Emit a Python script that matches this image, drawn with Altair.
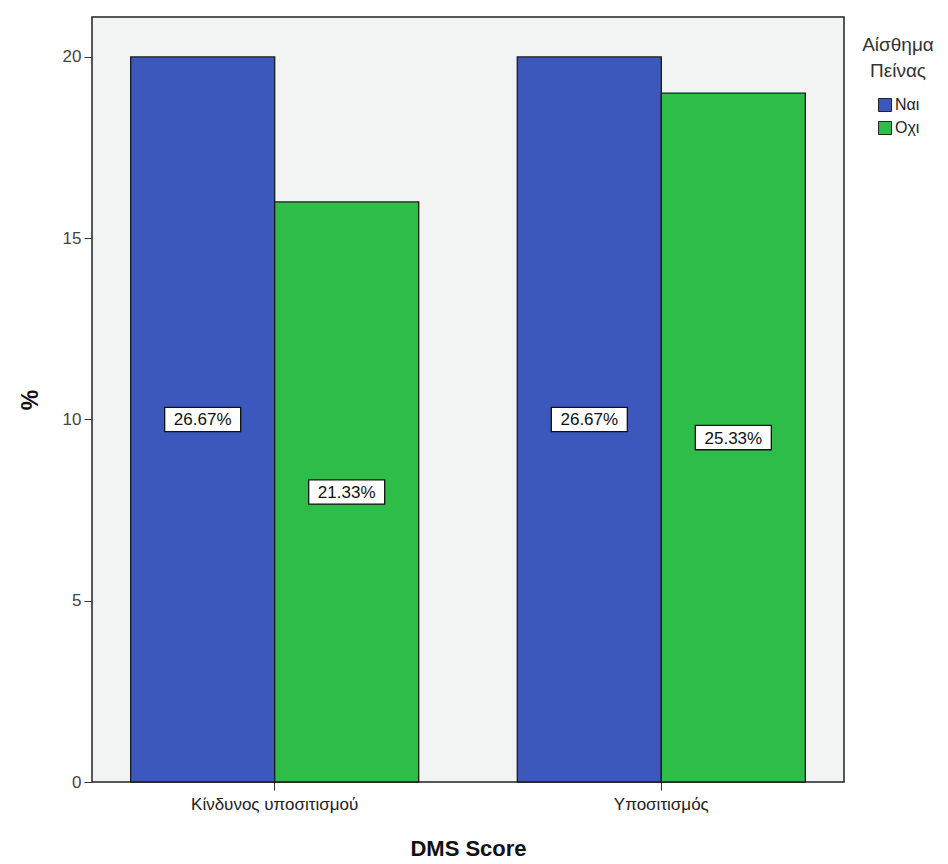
import altair as alt
import pandas as pd

# DMS Score categories and hunger-feeling groups
categories = ["Κίνδυνος υποσιτισμού", "Υποσιτισμός"]
groups = ["Ναι", "Οχι"]
counts_nai = [20, 20]          # Ναι bars
counts_oxi = [16, 19]          # Οχι bars
labels_nai = ["26.67%", "26.67%"]
labels_oxi = ["21.33%", "25.33%"]

rows = []
for i, cat in enumerate(categories):
    rows.append({"cat": cat, "grp": "Ναι", "value": counts_nai[i], "label": labels_nai[i]})
    rows.append({"cat": cat, "grp": "Οχι", "value": counts_oxi[i], "label": labels_oxi[i]})
df = pd.DataFrame(rows)

FONT = "Liberation Sans"
blue = "#3D58BC"
green = "#2EBD48"

x_enc = alt.X(
    "cat:N",
    sort=categories,
    scale=alt.Scale(paddingInner=0.255, paddingOuter=0.1),
    axis=alt.Axis(
        title="DMS Score",
        titleFont=FONT,
        titleFontSize=22,
        titleFontWeight="bold",
        titleColor="#111",
        titlePadding=26,
        labelFont=FONT,
        labelFontSize=17,
        labelColor="#222",
        labelAngle=0,
        labelPadding=6,
        tickSize=8,
        tickColor="#333",
        domain=False,
    ),
)
xoff = alt.XOffset("grp:N", sort=groups)

y_scale = alt.Scale(domain=[0, 21.1], nice=False)

bars = alt.Chart(df).mark_bar(stroke="#1a1a1a", strokeWidth=1.3).encode(
    x=x_enc,
    xOffset=xoff,
    y=alt.Y(
        "value:Q",
        scale=y_scale,
        axis=alt.Axis(
            title="%",
            titleFont=FONT,
            titleFontSize=23,
            titleFontWeight="bold",
            titleColor="#111",
            titlePadding=20,
            values=[0, 5, 10, 15, 20],
            labelFont=FONT,
            labelFontSize=17,
            labelColor="#444",
            labelPadding=3,
            tickSize=8,
            tickColor="#333",
            domain=False,
            grid=False,
        ),
    ),
    color=alt.Color(
        "grp:N",
        sort=groups,
        scale=alt.Scale(domain=groups, range=[blue, green]),
        legend=alt.Legend(
            title=["Αίσθημα", "Πείνας"],
            orient="none",
            legendX=770,
            legendY=19,
            titleFont=FONT,
            titleFontSize=19,
            titleFontWeight="normal",
            titleColor="#333",
            titleAlign="center",
            titleAnchor="middle",
            titleLineHeight=26,
            titlePadding=16,
            labelFont=FONT,
            labelFontSize=16,
            labelColor="#222",
            labelOffset=2,
            symbolType="square",
            symbolSize=170,
            symbolStrokeColor="#222",
            symbolStrokeWidth=1,
            rowPadding=5,
        ),
    ),
)

# white boxed value labels at mid-height of each bar
box_path = "M-1,-0.32L1,-0.32L1,0.32L-1,0.32Z"
boxes = alt.Chart(df).transform_calculate(mid="datum.value / 2").mark_point(
    shape=box_path, size=5776, filled=True, fill="white", stroke="#111",
    strokeWidth=1.3, opacity=1,
).encode(
    x=alt.X("cat:N", sort=categories),
    xOffset=xoff,
    y=alt.Y("mid:Q", scale=y_scale),
)
texts = alt.Chart(df).transform_calculate(mid="datum.value / 2").mark_text(
    font=FONT, fontSize=17, color="#111", baseline="middle", align="center", dy=1,
).encode(
    x=alt.X("cat:N", sort=categories),
    xOffset=xoff,
    y=alt.Y("mid:Q", scale=y_scale),
    text="label:N",
)

chart = alt.layer(bars, boxes, texts).properties(
    width=752,
    height=765,
    autosize=alt.AutoSizeParams(type="none"),
    padding={"left": 92, "top": 17, "right": 104, "bottom": 82},
    background="white",
).configure_view(
    fill="#F2F4F4",
    stroke="#222",
    strokeWidth=1.5,
)

chart.save("out.html", embed_options={"renderer": "svg", "actions": False})
